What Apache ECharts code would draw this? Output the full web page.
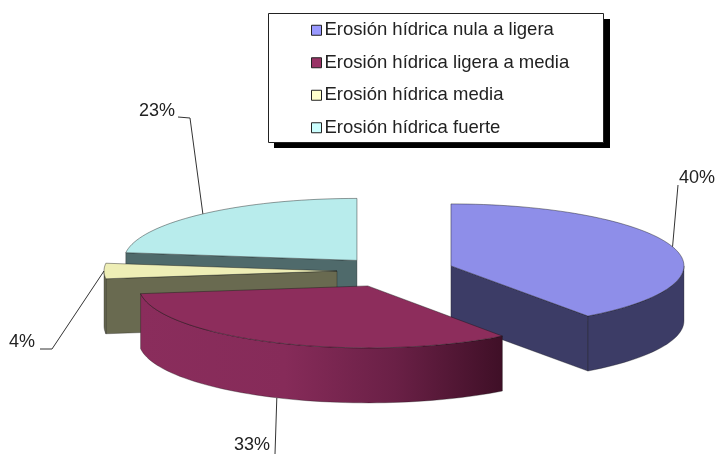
<!DOCTYPE html>
<html>
<head>
<meta charset="UTF-8">
<title></title>
<style>html,body{margin:0;padding:0;background:#fff}</style>
<script src="https://cdn.jsdelivr.net/npm/echarts@6/dist/echarts.min.js"></script>
</head>
<body>
<div id="main" style="width:718px;height:454px"></div>
<script>
var categories = ['Erosión hídrica nula a ligera', 'Erosión hídrica ligera a media', 'Erosión hídrica media', 'Erosión hídrica fuerte'];
var values = [40, 33, 4, 23];

// colores
var legendColors = ['#9999ff', '#993366', '#ffffcc', '#ccffff'];
var topColors = ['#8e8ee9', '#8d2d5c', '#eeeeb6', '#b8ecec'];
var sideColors = ['#3c3c66', '#8a2d5c', '#696a50', '#4f6a6b'];

// geometria del pastel 3D
var pie = { cx: 392, cy: 271, b: 62, depth: 55 };
var radiusX = [233, 229, 233, 233];
var explode = [62, 61, 55, 53];
var drawOrder = [3, 2, 0, 1]; // de atras hacia adelante

// codo de la linea guia y posicion de la etiqueta
var elbows = [null, null, [52, 349], [190, 118]];
var labelEnds = [[678, 185], [275, 454], [40, 349], [178, 117]];
var labelPos = [[715, 178], [270, 445], [35, 342], [175, 111]];

var startAngles = [];
var sum = 0;
values.forEach(function (v) {
    startAngles.push(sum * 3.6);
    sum += v;
});

function rad(d) { return d * Math.PI / 180; }

function sliceCenter(i) {
    var mid = rad(startAngles[i] + values[i] * 1.8);
    return [
        pie.cx + explode[i] * Math.sin(mid),
        pie.cy - explode[i] * Math.cos(mid) * pie.b / 233
    ];
}

function rim(i, c, deg) {
    return [c[0] + radiusX[i] * Math.sin(rad(deg)), c[1] - pie.b * Math.cos(rad(deg))];
}

function arc(i, c, from, to) {
    var pts = [];
    var n = Math.max(2, Math.ceil((to - from) / 2));
    for (var k = 0; k <= n; k++) {
        pts.push(rim(i, c, from + (to - from) * k / n));
    }
    return pts;
}

function down(p) { return [p[0], p[1] + pie.depth]; }

function band(pts) {
    return pts.concat(pts.slice().reverse().map(down));
}

function sideStyle(i, c) {
    var fill = sideColors[i];
    if (i === 1) {
        // la pared del sector granate se oscurece hacia la derecha
        fill = new echarts.graphic.LinearGradient(c[0] - radiusX[i], 0, c[0] + 137, 0, [
            { offset: 0, color: '#8a2d5c' },
            { offset: 0.4, color: '#862b59' },
            { offset: 0.7, color: '#6a2046' },
            { offset: 1, color: '#3e0f26' }
        ], true);
    }
    return { fill: fill, stroke: 'rgba(20,20,20,0.55)', lineWidth: 0.6 };
}

function renderSlice(i) {
    var from = startAngles[i];
    var to = from + values[i] * 3.6;
    var c = sliceCenter(i);
    var children = [];

    // caras de corte visibles
    [[from, -1], [to, 1]].forEach(function (cut) {
        var normalY = cut[1] * Math.sin(rad(cut[0]));
        if (normalY > 0.01) {
            children.push({
                type: 'polygon',
                shape: { points: band([c, rim(i, c, cut[0])]) },
                style: sideStyle(i, c)
            });
        }
    });

    // pared exterior, solo la parte de delante
    var wallFrom = Math.max(from, 90);
    var wallTo = Math.min(to, 270);
    if (wallTo > wallFrom) {
        children.push({
            type: 'polygon',
            shape: { points: band(arc(i, c, wallFrom, wallTo)) },
            style: sideStyle(i, c)
        });
    }

    // cara superior
    children.push({
        type: 'polygon',
        shape: { points: [c].concat(arc(i, c, from, to)) },
        style: { fill: topColors[i], stroke: 'rgba(20,20,20,0.6)', lineWidth: 0.7 }
    });

    // linea guia
    var midDeg = from + values[i] * 1.8;
    var anchor = rim(i, c, midDeg);
    if (midDeg > 90 && midDeg < 270) anchor = down(anchor);
    var line = [anchor];
    if (elbows[i]) line.push(elbows[i]);
    line.push(labelEnds[i]);
    children.push({
        type: 'polyline',
        shape: { points: line },
        style: { fill: 'none', stroke: '#333', lineWidth: 1 }
    });

    children.push({
        type: 'text',
        x: labelPos[i][0],
        y: labelPos[i][1],
        style: {
            text: values[i] + '%',
            align: 'right',
            verticalAlign: 'middle',
            fill: '#222',
            font: '18px "Liberation Sans"'
        }
    });

    return { type: 'group', children: children };
}

var myChart = echarts.init(document.getElementById('main'));
var option = {
    animation: false,
    backgroundColor: '#fff',
    // recuadro de la leyenda con su sombra dura
    graphic: {
        elements: [
            { type: 'rect', z: 0, shape: { x: 274, y: 19, width: 336, height: 129 }, style: { fill: '#000' } },
            { type: 'rect', z: 1, shape: { x: 268.5, y: 13.5, width: 335, height: 129 }, style: { fill: '#fff', stroke: '#222', lineWidth: 1 } }
        ]
    },
    legend: {
        data: categories,
        orient: 'vertical',
        left: 311,
        top: 20,
        padding: 0,
        align: 'left',
        selectedMode: false,
        icon: 'rect',
        itemWidth: 10,
        itemHeight: 10,
        itemGap: 12,
        z: 5,
        itemStyle: { borderColor: '#222', borderWidth: 1 },
        textStyle: { fontFamily: 'Liberation Sans', fontSize: 18.5, color: '#222', padding: [0, 0, 0, -2], lineHeight: 20.5 }
    },
    series: drawOrder.map(function (i) {
        return {
            type: 'custom',
            name: categories[i],
            coordinateSystem: 'none',
            silent: true,
            itemStyle: { color: legendColors[i] },
            data: [values[i]],
            renderItem: function () { return renderSlice(i); }
        };
    })
};
myChart.setOption(option);
</script>
</body>
</html>
